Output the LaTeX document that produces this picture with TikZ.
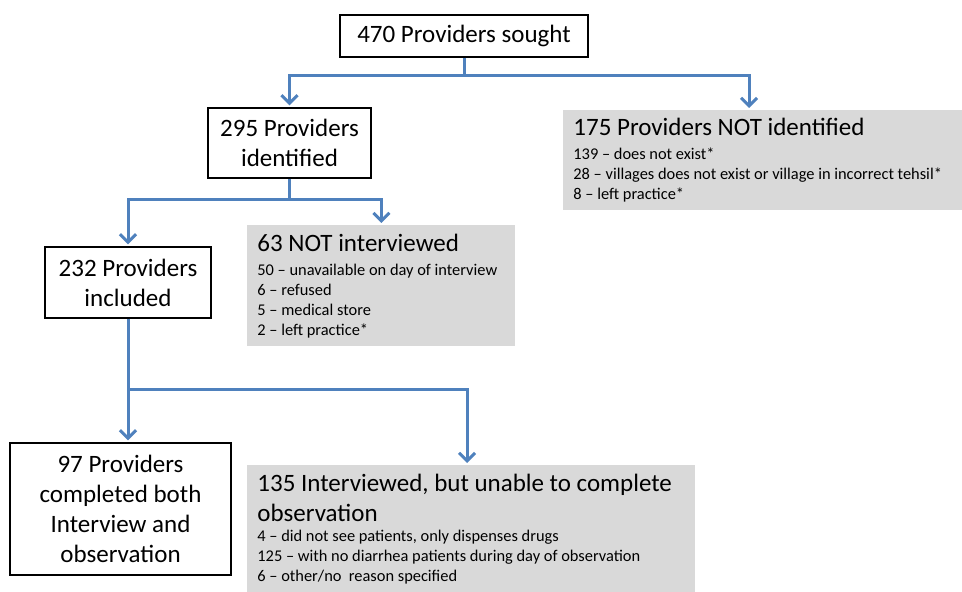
\documentclass[tikz,border=0pt]{standalone}
\usepackage{fontspec}
\setmainfont{Carlito}
\usetikzlibrary{arrows.meta}
\definecolor{flowblue}{RGB}{79,129,189}
\definecolor{boxgray}{RGB}{217,217,217}
\newcommand{\bigtxt}{\fontsize{12.5}{15}\selectfont\spaceskip=0pt\xspaceskip=0pt\parindent=0pt\relax}
\newcommand{\smalltxt}{\fontsize{8.2}{10}\selectfont\spaceskip=0pt\xspaceskip=0pt\parindent=0pt\relax}

\begin{document}
\begin{tikzpicture}[x=0.5pt, y=-0.5pt,
	stage/.style = {draw, line width=0.7pt, align=center, font=\bigtxt, inner sep=2pt},
	reason/.style = {fill=boxgray, anchor=north west, align=left, inner xsep=5pt, inner ysep=3pt},
	link/.style = {draw=flowblue, line width=1.5pt},
	flow/.style = {link, shorten >=1pt, -{Straight Barb[length=4pt, width=8pt]}}]
	\useasboundingbox (0,0) rectangle (962,592);
	% stages
	\node[stage, minimum width=124pt, minimum height=21pt] (sought) at (464,36) {470 Providers sought};
	\node[stage, minimum width=81.5pt, minimum height=35pt] (ident) at (289.5,143) {295 Providers\\identified};
	\node[stage, minimum width=83pt, minimum height=35.5pt] (incl) at (128,282.5) {232 Providers\\included};
	\node[stage, minimum width=110.5pt, minimum height=66pt] (both) at (120.5,509) {97 Providers\\completed both\\Interview and\\observation};
	% reasons
	\node[reason, text width=190pt, minimum height=50pt] (notid) at (563,110) {\bigtxt 175 Providers NOT identified\par\vskip2pt
		\smalltxt 139 -- does not exist*\par 28 -- villages does not exist or village in incorrect tehsil*\par 8 -- left practice*\par};
	\node[reason, text width=124pt, minimum height=60.5pt] (notint) at (247,225) {\bigtxt 63 NOT interviewed\par\vskip2pt
		\smalltxt 50 -- unavailable on day of interview\par 6 -- refused\par 5 -- medical store\par 2 -- left practice*\par};
	\node[reason, text width=214pt, minimum height=63.5pt] (unable) at (247,465) {\bigtxt 135 Interviewed, but unable to complete\par observation\par
		\smalltxt 4 -- did not see patients, only dispenses drugs\par 125 -- with no diarrhea patients during day of observation\par 6 -- other/no\ \ reason specified\par};
	% connectors
	\coordinate (j1) at (464,76);
	\coordinate (t1) at (749,110);
	\draw[link] (sought.south) -- (j1);
	\draw[flow] (j1) -| (ident.north);
	\draw[flow] (j1) -| (t1);
	\coordinate (j2) at (289.5,200);
	\draw[link] (ident.south) -- (j2);
	\draw[flow] (j2) -| (incl.north);
	\draw[flow] (j2) -| (notint.north);
	\coordinate (j3) at (128,390);
	\coordinate (t3) at (467,465);
	\draw[flow] (incl.south) -- (incl.south |- both.north);
	\draw[flow] (j3) -| (t3);
\end{tikzpicture}
\end{document}
